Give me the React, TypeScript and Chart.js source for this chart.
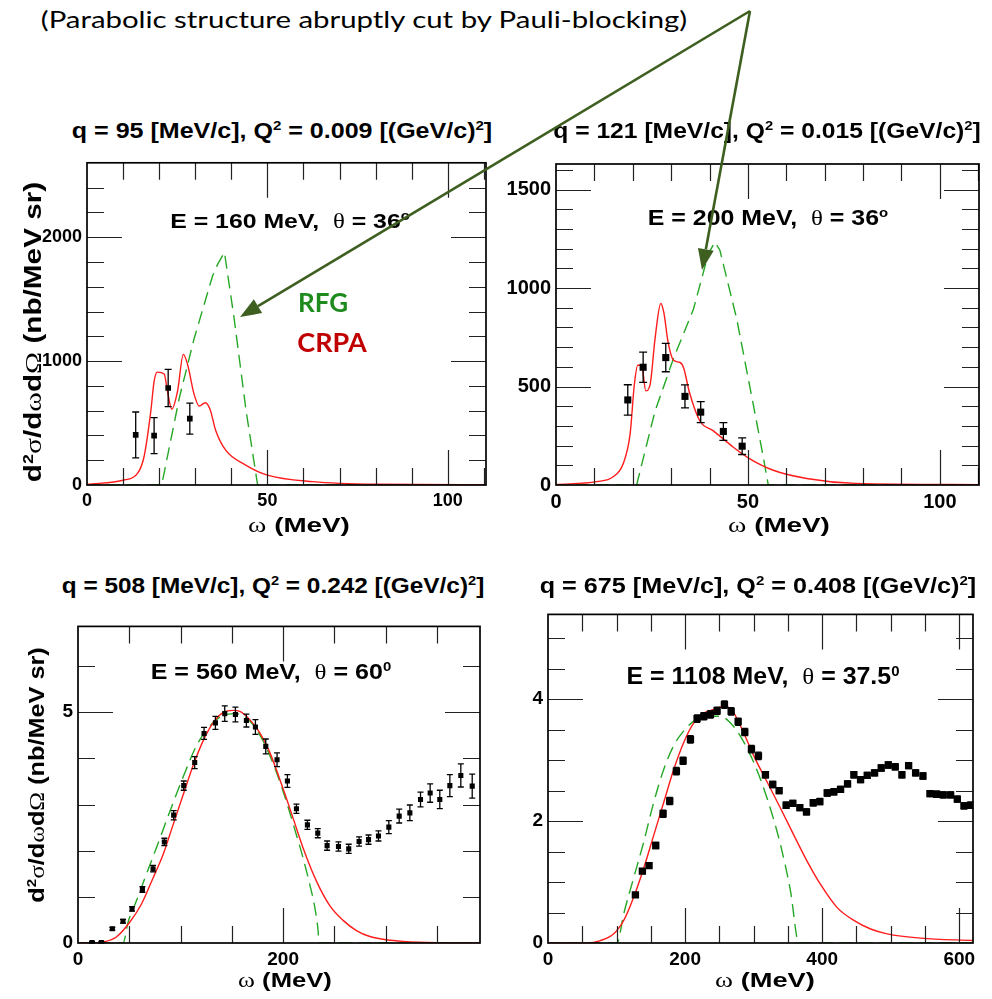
import React, { useEffect, useLayoutEffect, useRef } from "react";
import { Chart, registerables } from "chart.js";
Chart.register(...registerables);

// ---------------- DATA ----------------
// Panel 1: q = 95 MeV/c, E = 160 MeV, theta = 36 deg
const p1CrpaX = [0, 10.3, 14.0, 15.8, 17.7, 18.6, 19.5, 21.4, 22.3, 23.5, 25.1, 26.7, 27.9, 29.7, 31.1, 32.8, 34.1, 35.7, 38.5, 44.1, 50, 62.6, 80, 110.6];
const p1CrpaY = [5, 40, 93, 226, 598, 837, 911, 895, 757, 611, 757, 1054, 970, 731, 637, 664, 611, 438, 279, 159, 80, 27, 6, 2];
const p1RfgX = [0, 20.7, 25.6, 29.7, 34.8, 36.2, 38.1, 40.8, 44.1, 47.3, 110.6];
const p1RfgY = [0, 0, 704, 1182, 1687, 1780, 1878, 1341, 598, 0, 0];
const p1DataX = [13.5, 18.6, 22.5, 28.5];
const p1DataY = [404, 398, 783, 536];
const p1DataErr = [185, 145, 150, 125];

// Panel 2: q = 121 MeV/c, E = 200 MeV, theta = 36 deg
const p2CrpaX = [0, 10.6, 14.9, 17.5, 19.3, 20.4, 21.3, 22.3, 23.4, 24.5, 25.8, 27.3, 28.1, 29.2, 30.6, 32.3, 33.3, 34.7, 37.5, 41, 46.2, 50.5, 56.6, 65.3, 78, 110.2];
const p2CrpaY = [3, 17, 42, 108, 258, 508, 608, 608, 478, 508, 742, 922, 875, 725, 633, 622, 592, 475, 325, 275, 192, 133, 75, 33, 8, 2];
const p2RfgX = [0, 21, 25.8, 30.6, 35.8, 39.7, 41.4, 42.7, 47.1, 51.4, 54, 55.3, 110.2];
const p2RfgY = [0, 0, 375, 642, 892, 1175, 1233, 1192, 842, 408, 142, 0, 0];
const p2DataX = [18.7, 22.7, 28.6, 33.6, 37.7, 43.6, 48.5];
const p2DataY = [432, 598, 647, 450, 370, 272, 197];
const p2DataErr = [77, 77, 72, 58, 53, 45, 42];

// Panel 3: q = 508 MeV/c, E = 560 MeV, theta = 60 deg
const p3CrpaX = [0, 14.6, 24.4, 37.4, 50.4, 61.8, 73.2, 82.9, 92.7, 102.4, 112.2, 122, 131.7, 141.5, 151.2, 157.7, 167.5, 177.2, 187, 200, 209.8, 219.5, 232.5, 245.5, 258.5, 271.5, 284.6, 300.8, 317, 349.6, 392];
const p3CrpaY = [0, 0, 0.02, 0.13, 0.45, 0.84, 1.41, 1.91, 2.56, 3.2, 3.84, 4.38, 4.77, 4.99, 5.04, 5.02, 4.84, 4.56, 4.13, 3.34, 2.7, 2.06, 1.34, 0.81, 0.49, 0.27, 0.14, 0.07, 0.036, 0.007, 0];
const p3RfgX = [0, 43.9, 48.8, 56.9, 66.7, 76.4, 89.4, 102.4, 115.4, 128.5, 141.5, 154.5, 167.5, 180.5, 193.5, 203.3, 213, 219.5, 226, 230.9, 234.1, 235, 392];
const p3RfgY = [0, 0, 0.45, 0.91, 1.49, 2.06, 2.84, 3.59, 4.27, 4.7, 4.93, 4.97, 4.81, 4.38, 3.7, 3.06, 2.34, 1.84, 1.27, 0.77, 0.27, 0, 0];
const p3DataX = [13.7, 22.8, 33.5, 43.9, 52.7, 62.8, 73.2, 84.2, 93.3, 103.1, 113.8, 122.9, 134, 143.1, 153.5, 164.2, 173, 183.1, 194.1, 204.2, 213, 223.7, 233.8, 242.9, 254, 264, 274.1, 283.3, 293, 303.1, 313.2, 323.6, 334, 343.4, 352.8, 362.6, 373.3, 384.4];
const p3DataY = [0.01, 0.01, 0.31, 0.47, 0.74, 1.16, 1.61, 2.19, 2.77, 3.41, 3.91, 4.54, 4.77, 4.97, 4.95, 4.82, 4.68, 4.26, 3.97, 3.51, 2.91, 2.56, 2.38, 2.11, 2.09, 2.04, 2.2, 2.24, 2.32, 2.51, 2.75, 2.82, 3.11, 3.25, 3.11, 3.41, 3.63, 3.4];
const p3DataErr = [0.02, 0.02, 0.03, 0.04, 0.05, 0.06, 0.07, 0.08, 0.1, 0.1, 0.13, 0.13, 0.14, 0.17, 0.16, 0.14, 0.16, 0.16, 0.15, 0.14, 0.1, 0.1, 0.1, 0.1, 0.1, 0.1, 0.1, 0.1, 0.11, 0.14, 0.15, 0.17, 0.16, 0.2, 0.2, 0.24, 0.25, 0.26];

// Panel 4: q = 675 MeV/c, E = 1108 MeV, theta = 37.5 deg
const p4CrpaX = [0, 57, 76.4, 95.9, 110.5, 125, 139.7, 154.3, 168.9, 183.5, 198, 212.7, 227.3, 241.8, 256.4, 266.2, 280.8, 300.2, 319.7, 339.2, 358.6, 378.1, 397.6, 421.9, 446.2, 470.6, 494.9, 543.6, 620];
const p4CrpaY = [0, 0, 0.04, 0.15, 0.37, 0.75, 1.23, 1.77, 2.31, 2.85, 3.29, 3.61, 3.77, 3.83, 3.88, 3.85, 3.56, 3.07, 2.64, 2.21, 1.77, 1.34, 0.96, 0.58, 0.37, 0.23, 0.15, 0.08, 0.04];
const p4RfgX = [0, 100.7, 110.5, 125, 139.7, 154.3, 168.9, 183.5, 198, 212.7, 232.1, 251.6, 266.2, 280.8, 300.2, 319.7, 339.2, 353.8, 366, 620];
const p4RfgY = [0, 0, 0.48, 1.07, 1.66, 2.31, 2.85, 3.24, 3.48, 3.64, 3.72, 3.72, 3.61, 3.39, 2.96, 2.37, 1.61, 0.85, 0, 0];
const p4DataX = [127.5, 137.7, 147.4, 157.2, 167.9, 177.6, 187.3, 197.1, 207.8, 217.5, 227.3, 237, 246.7, 257.4, 267.2, 277.4, 287.1, 296.8, 307, 317.2, 327.9, 337.2, 347.4, 357.2, 367.4, 377.1, 386.9, 396.6, 407.3, 417, 426.8, 437, 446.2, 456, 465.7, 476.4, 486.1, 496.4, 506.6, 516.3, 526.1, 536.3, 547, 557.2, 567, 576.6, 587.3, 597.1, 606.8, 616.5];
const p4DataY = [0.79, 1.18, 1.27, 1.6, 2.12, 2.33, 2.82, 2.99, 3.34, 3.68, 3.72, 3.75, 3.81, 3.91, 3.8, 3.63, 3.46, 3.18, 3.07, 2.76, 2.6, 2.5, 2.26, 2.29, 2.22, 2.15, 2.3, 2.32, 2.46, 2.48, 2.52, 2.61, 2.76, 2.68, 2.75, 2.79, 2.87, 2.92, 2.89, 2.76, 2.91, 2.79, 2.74, 2.45, 2.44, 2.43, 2.43, 2.36, 2.25, 2.26];
const p4DataErr = [0.03, 0.04, 0.04, 0.05, 0.06, 0.06, 0.06, 0.06, 0.06, 0.06, 0.06, 0.06, 0.06, 0.06, 0.06, 0.06, 0.06, 0.06, 0.06, 0.05, 0.05, 0.05, 0.05, 0.05, 0.05, 0.05, 0.05, 0.05, 0.05, 0.05, 0.05, 0.05, 0.05, 0.05, 0.05, 0.05, 0.05, 0.05, 0.05, 0.05, 0.05, 0.05, 0.05, 0.05, 0.05, 0.05, 0.05, 0.05, 0.05, 0.05];

// Axis ranges, tick steps and tick labels
const xMaxes = [110.6, 110.2, 392, 620];
const yMaxes = [2600, 1630, 6.86, 5.39];
const xMinorSteps = [10, 10, 50, 50];
const xMajorSteps = [50, 50, 200, 200];
const yMinorSteps = [200, 100, 1, 0.5];
const yMajorSteps = [1000, 500, 5, 2];
const xTickLabels = [[0, 50, 100], [0, 50, 100], [0, 200], [0, 200, 400, 600]];
const yTickLabels = [[0, 1000, 2000], [0, 500, 1000, 1500], [0, 5], [0, 2, 4]];

// ---------------- LAYOUT / STYLE ----------------
const RED = "#ff1c1c";
const GREEN = "#25a825";
const SANS = "'Liberation Sans', Arial, Helvetica, sans-serif";
const SERIF = "'Liberation Serif', 'Times New Roman', serif";

type PanelCfg = {
  left: number; top: number; right: number; bottom: number;
  xMax: number; yMax: number;
  xMinor: number; xMajor: number; yMinor: number; yMajor: number;
  xTicks: number[]; yTicks: number[];
  labelSize: number;
  crpaX: number[]; crpaY: number[]; rfgX: number[]; rfgY: number[]; rfgSmooth: boolean;
  dataX: number[]; dataY: number[]; dataErr: number[];
  markerRadius: number; cap: number;
};

const rects = [
  { left: 87, top: 159, right: 486, bottom: 485, labelSize: 18, markerRadius: 4, cap: 3.5, rfgSmooth: false },
  { left: 556, top: 159, right: 979, bottom: 485, labelSize: 20, markerRadius: 5, cap: 4, rfgSmooth: false },
  { left: 78, top: 622, right: 480, bottom: 943, labelSize: 19, markerRadius: 3.6, cap: 3, rfgSmooth: true },
  { left: 548, top: 610, right: 973, bottom: 943, labelSize: 19, markerRadius: 5.2, cap: 3, rfgSmooth: true },
];
const series = [
  { crpaX: p1CrpaX, crpaY: p1CrpaY, rfgX: p1RfgX, rfgY: p1RfgY, dataX: p1DataX, dataY: p1DataY, dataErr: p1DataErr },
  { crpaX: p2CrpaX, crpaY: p2CrpaY, rfgX: p2RfgX, rfgY: p2RfgY, dataX: p2DataX, dataY: p2DataY, dataErr: p2DataErr },
  { crpaX: p3CrpaX, crpaY: p3CrpaY, rfgX: p3RfgX, rfgY: p3RfgY, dataX: p3DataX, dataY: p3DataY, dataErr: p3DataErr },
  { crpaX: p4CrpaX, crpaY: p4CrpaY, rfgX: p4RfgX, rfgY: p4RfgY, dataX: p4DataX, dataY: p4DataY, dataErr: p4DataErr },
];
const panels: PanelCfg[] = rects.map((r, i) => ({
  ...r, ...series[i],
  xMax: xMaxes[i], yMax: yMaxes[i],
  xMinor: xMinorSteps[i], xMajor: xMajorSteps[i], yMinor: yMinorSteps[i], yMajor: yMajorSteps[i],
  xTicks: xTickLabels[i], yTicks: yTickLabels[i],
}));

const PAD_L = 70, PAD_T = 12, PAD_R = 26, PAD_B = 36;

function Panel({ cfg }: { cfg: PanelCfg }) {
  const ref = useRef<HTMLCanvasElement>(null);
  const plotW = cfg.right - cfg.left;
  const plotH = cfg.bottom - cfg.top;
  const W = plotW + PAD_L + PAD_R;
  const H = plotH + PAD_T + PAD_B;

  useEffect(() => {
    const pts = (xs: number[], ys: number[]) => xs.map((x, i) => ({ x, y: ys[i] }));
    const framePlugin = {
      id: "rootFrame",
      afterDatasetsDraw(chart: any) {
        const { ctx, chartArea, scales } = chart;
        const sx = scales.x, sy = scales.y;
        const { left, right, top, bottom } = chartArea;
        ctx.save();
        // error bars
        ctx.strokeStyle = "#000";
        ctx.lineWidth = 1.3;
        ctx.beginPath();
        cfg.dataX.forEach((vx, i) => {
          const px = sx.getPixelForValue(vx);
          const y1 = sy.getPixelForValue(Math.max(0, cfg.dataY[i] - cfg.dataErr[i]));
          const y2 = sy.getPixelForValue(cfg.dataY[i] + cfg.dataErr[i]);
          ctx.moveTo(px, y1); ctx.lineTo(px, y2);
          ctx.moveTo(px - cfg.cap, y1); ctx.lineTo(px + cfg.cap, y1);
          ctx.moveTo(px - cfg.cap, y2); ctx.lineTo(px + cfg.cap, y2);
        });
        ctx.stroke();
        // ticks (ROOT style, inward on all four sides)
        ctx.strokeStyle = "#222";
        ctx.lineWidth = 1.2;
        ctx.beginPath();
        const isMajor = (v: number, step: number) => Math.abs(v / step - Math.round(v / step)) < 1e-6;
        for (let k = 1; k * cfg.xMinor < cfg.xMax - 1e-9; k++) {
          const v = k * cfg.xMinor;
          const px = Math.round(sx.getPixelForValue(v)) + 0.5;
          const L = isMajor(v, cfg.xMajor) ? 35 : 17;
          ctx.moveTo(px, bottom); ctx.lineTo(px, bottom - L);
          ctx.moveTo(px, top); ctx.lineTo(px, top + L);
        }
        for (let k = 1; k * cfg.yMinor < cfg.yMax - 1e-9; k++) {
          const v = k * cfg.yMinor;
          const py = Math.round(sy.getPixelForValue(v)) + 0.5;
          const L = isMajor(v, cfg.yMajor) ? 35 : 17;
          ctx.moveTo(left, py); ctx.lineTo(left + L, py);
          ctx.moveTo(right, py); ctx.lineTo(right - L, py);
        }
        ctx.stroke();
        // frame
        ctx.strokeStyle = "#000";
        ctx.lineWidth = 1.7;
        ctx.strokeRect(left, top, right - left, bottom - top);
        ctx.restore();
      },
    };
    const tickFont = { family: SANS, weight: "bold" as const, size: cfg.labelSize };
    const chart = new Chart(ref.current as HTMLCanvasElement, {
      type: "line",
      data: {
        datasets: [
          { label: "data", data: pts(cfg.dataX, cfg.dataY), showLine: false, pointStyle: "rect", pointRadius: cfg.markerRadius, backgroundColor: "#000", borderColor: "#000", borderWidth: 0, order: 0 },
          { label: "CRPA", data: pts(cfg.crpaX, cfg.crpaY), showLine: true, pointRadius: 0, borderColor: RED, borderWidth: 1.4, cubicInterpolationMode: "monotone", fill: false, order: 1 },
          { label: "RFG", data: pts(cfg.rfgX, cfg.rfgY), showLine: true, pointRadius: 0, borderColor: GREEN, borderWidth: 1.4, borderDash: [13, 7], cubicInterpolationMode: cfg.rfgSmooth ? "monotone" : "default", tension: 0, fill: false, order: 2 },
        ] as any,
      },
      options: {
        animation: false,
        responsive: false,
        maintainAspectRatio: false,
        events: [],
        layout: { padding: { left: 0, top: PAD_T, right: PAD_R, bottom: 0 } },
        plugins: { legend: { display: false }, tooltip: { enabled: false }, title: { display: false } },
        scales: {
          x: {
            type: "linear", min: 0, max: cfg.xMax,
            border: { display: false },
            grid: { display: false, drawTicks: false },
            ticks: { autoSkip: false, maxRotation: 0, padding: 5, color: "#000", font: tickFont, callback: (v: any) => String(v) },
            afterBuildTicks: (s: any) => { s.ticks = cfg.xTicks.map((v) => ({ value: v })); },
            afterFit: (s: any) => { s.height = PAD_B; },
          },
          y: {
            type: "linear", min: 0, max: cfg.yMax,
            border: { display: false },
            grid: { display: false, drawTicks: false },
            ticks: { autoSkip: false, padding: 5, color: "#000", font: tickFont, callback: (v: any) => String(v) },
            afterBuildTicks: (s: any) => { s.ticks = cfg.yTicks.map((v) => ({ value: v })); },
            afterFit: (s: any) => { s.width = PAD_L; },
          },
        },
      } as any,
      plugins: [framePlugin],
    });
    return () => chart.destroy();
  }, []);

  return (
    <canvas
      ref={ref}
      width={W}
      height={H}
      style={{ position: "absolute", left: cfg.left - PAD_L, top: cfg.top - PAD_T, width: W, height: H }}
    />
  );
}

// Text fitted to a target width (horizontal stretch like the slide image)
function Txt(props: { cx: number; cy: number; w: number; size: number; rotate?: boolean; color?: string; family?: string; weight?: any; children: any }) {
  const ref = useRef<HTMLDivElement>(null);
  useLayoutEffect(() => {
    const el = ref.current;
    if (!el) return;
    const nat = el.offsetWidth || 1;
    const s = props.w / nat;
    el.style.transform = `translate(-50%, -50%) ${props.rotate ? "rotate(-90deg) " : ""}scaleX(${s})`;
  }, []);
  return (
    <div
      ref={ref}
      style={{
        position: "absolute", left: props.cx, top: props.cy, whiteSpace: "nowrap", lineHeight: 1,
        fontSize: props.size, fontFamily: props.family || SANS, fontWeight: props.weight ?? "bold",
        color: props.color || "#000", transform: "translate(-50%, -50%)",
      }}
    >
      {props.children}
    </div>
  );
}

const supStyle: React.CSSProperties = { fontSize: "0.6em", position: "relative", top: "-0.6em", verticalAlign: "baseline" };
const greek: React.CSSProperties = { fontFamily: SERIF, fontWeight: "normal" };
const Sup = ({ children }: { children: any }) => <span style={supStyle}>{children}</span>;
const G = ({ children }: { children: any }) => <span style={greek}>{children}</span>;

const headerTitles = [
  { cx: 282, cy: 131, w: 420, q: "95", Q2: "0.009" },
  { cx: 767, cy: 131, w: 428, q: "121", Q2: "0.015" },
  { cx: 273, cy: 586, w: 423, q: "508", Q2: "0.242" },
  { cx: 758, cy: 586, w: 437, q: "675", Q2: "0.408" },
];
const innerLabels = [
  { cx: 290, cy: 221, w: 240, size: 21, E: "160", th: "36", deg: "o" },
  { cx: 768, cy: 218, w: 240, size: 22, E: "200", th: "36", deg: "o" },
  { cx: 271, cy: 672, w: 241, size: 22, E: "560", th: "60", deg: "0" },
  { cx: 763, cy: 676, w: 273, size: 23, E: "1108", th: "37.5", deg: "0" },
];
const xTitles = [
  { cx: 299, cy: 525, w: 102 },
  { cx: 779, cy: 525, w: 102 },
  { cx: 285, cy: 980, w: 94 },
  { cx: 765, cy: 980, w: 100 },
];
const yTitles = [
  { cx: 33, cy: 332, w: 301, size: 23 },
  { cx: 37, cy: 775, w: 255, size: 22 },
];

const APEX = [750, 11];
const TIPS = [[240, 317], [702, 270]];
const ARROW_COLOR = "#3e5f1f";

function arrow(ax: number, ay: number, tx: number, ty: number, len = 21, half = 8) {
  const dx = tx - ax, dy = ty - ay;
  const d = Math.hypot(dx, dy);
  const ux = dx / d, uy = dy / d;
  const bx = tx - ux * len, by = ty - uy * len;
  const nx = -uy * half, ny = ux * half;
  return { bx, by, head: `${tx},${ty} ${bx + nx},${by + ny} ${bx - nx},${by - ny}` };
}

export default function App() {
  return (
    <div style={{ position: "absolute", left: 0, top: 0, width: 992, height: 999, background: "#fff", overflow: "hidden" }}>
      {panels.map((p, i) => <Panel key={i} cfg={p} />)}

      {headerTitles.map((t, i) => (
        <Txt key={"h" + i} cx={t.cx} cy={t.cy} w={t.w} size={22}>
          q = {t.q} [MeV/c], Q<Sup>2</Sup> = {t.Q2} [(GeV/c)<Sup>2</Sup>]
        </Txt>
      ))}
      {innerLabels.map((t, i) => (
        <Txt key={"e" + i} cx={t.cx} cy={t.cy} w={t.w} size={t.size}>
          E = {t.E} MeV,&nbsp; <G>θ</G> = {t.th}<Sup>{t.deg}</Sup>
        </Txt>
      ))}
      {xTitles.map((t, i) => (
        <Txt key={"x" + i} cx={t.cx} cy={t.cy} w={t.w} size={21}>
          <G>ω</G> (MeV)
        </Txt>
      ))}
      {yTitles.map((t, i) => (
        <Txt key={"y" + i} cx={t.cx} cy={t.cy} w={t.w} size={t.size} rotate>
          d<Sup>2</Sup><G>σ</G>/d<G>ω</G>d<G>Ω</G> (nb/MeV sr)
        </Txt>
      ))}

      <Txt cx={364} cy={19} w={646} size={24} family="Lato, 'Open Sans', sans-serif" weight="normal">
        (Parabolic structure abruptly cut by Pauli-blocking)
      </Txt>
      <Txt cx={323} cy={301} w={50} size={27} family="Lato, 'Open Sans', sans-serif" color="#1f8b1f">RFG</Txt>
      <Txt cx={332} cy={341} w={69} size={27} family="Lato, 'Open Sans', sans-serif" color="#c00000">CRPA</Txt>

      <svg width={992} height={999} style={{ position: "absolute", left: 0, top: 0, pointerEvents: "none" }}>
        {TIPS.map(([tx, ty], i) => {
          const a = arrow(APEX[0], APEX[1], tx, ty);
          return (
            <g key={i}>
              <line x1={APEX[0]} y1={APEX[1]} x2={a.bx} y2={a.by} stroke={ARROW_COLOR} strokeWidth={2.6} />
              <polygon points={a.head} fill={ARROW_COLOR} />
            </g>
          );
        })}
      </svg>
    </div>
  );
}
